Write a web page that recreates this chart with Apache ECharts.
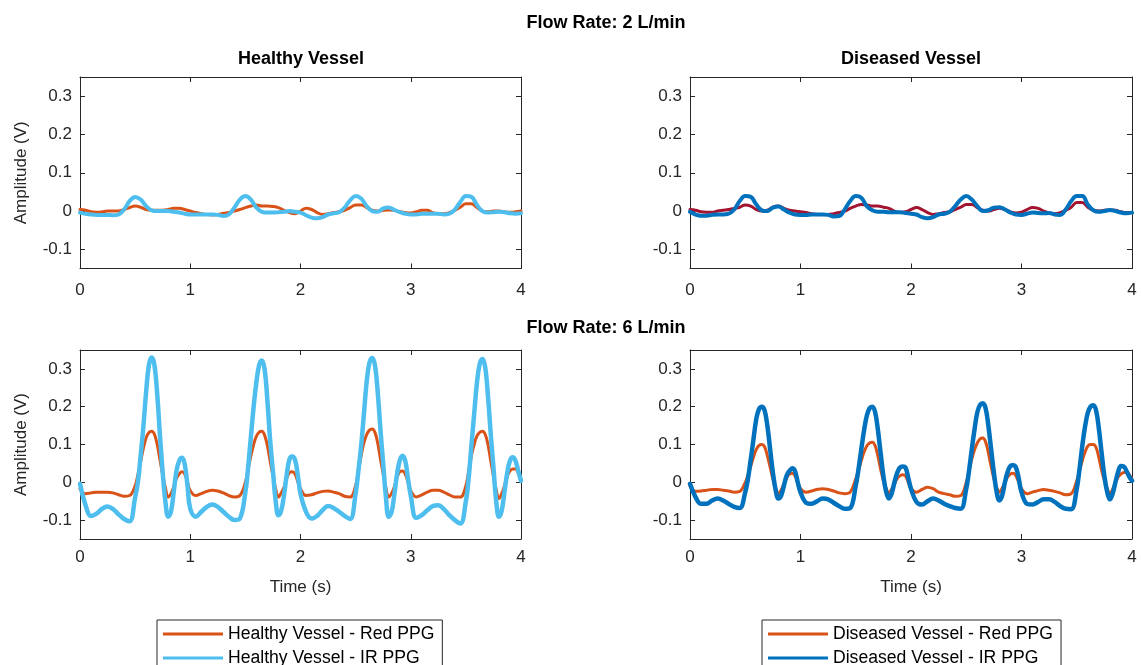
<!DOCTYPE html>
<html>
<head>
<meta charset="utf-8">
<title>PPG signals</title>
<script src="https://cdn.jsdelivr.net/npm/echarts@6/dist/echarts.min.js"></script>
<style>
  html, body { margin: 0; padding: 0; background: #fff; }
  #chart { width: 1141px; height: 665px; }
</style>
</head>
<body>
<div id="chart"></div>
<script>
// Sample times (s) for the 2 L/min traces, 0.05 s apart
const time2 = [
  0, 0.05, 0.1, 0.15, 0.2, 0.25, 0.3, 0.35, 0.4, 0.45, 0.5, 0.55, 0.6, 0.65, 0.7, 0.75, 0.8, 0.85, 0.9, 0.95,
  1, 1.05, 1.1, 1.15, 1.2, 1.25, 1.3, 1.35, 1.4, 1.45, 1.5, 1.55, 1.6, 1.65, 1.7, 1.75, 1.8, 1.85, 1.9, 1.95,
  2, 2.05, 2.1, 2.15, 2.2, 2.25, 2.3, 2.35, 2.4, 2.45, 2.5, 2.55, 2.6, 2.65, 2.7, 2.75, 2.8, 2.85, 2.9, 2.95,
  3, 3.05, 3.1, 3.15, 3.2, 3.25, 3.3, 3.35, 3.4, 3.45, 3.5, 3.55, 3.6, 3.65, 3.7, 3.75, 3.8, 3.85, 3.9, 3.95,
  4
];

// Sample times (s) for the 6 L/min traces: denser over each systolic pulse
const time6 = [
  0, 0.05, 0.1, 0.15, 0.2, 0.25, 0.3, 0.35, 0.4, 0.45,
  0.5, 0.525, 0.55, 0.575, 0.6, 0.625, 0.65, 0.675, 0.7, 0.725, 0.75, 0.775, 0.8, 0.825, 0.85, 0.875, 0.9, 0.925, 0.95, 0.975,
  1, 1.05, 1.1, 1.15, 1.2, 1.25, 1.3, 1.35, 1.4, 1.45,
  1.5, 1.525, 1.55, 1.575, 1.6, 1.625, 1.65, 1.675, 1.7, 1.725, 1.75, 1.775, 1.8, 1.825, 1.85, 1.875, 1.9, 1.925, 1.95, 1.975,
  2, 2.05, 2.1, 2.15, 2.2, 2.25, 2.3, 2.35, 2.4, 2.45,
  2.5, 2.525, 2.55, 2.575, 2.6, 2.625, 2.65, 2.675, 2.7, 2.725, 2.75, 2.775, 2.8, 2.825, 2.85, 2.875, 2.9, 2.925, 2.95, 2.975,
  3, 3.05, 3.1, 3.15, 3.2, 3.25, 3.3, 3.35, 3.4, 3.45,
  3.5, 3.525, 3.55, 3.575, 3.6, 3.625, 3.65, 3.675, 3.7, 3.725, 3.75, 3.775, 3.8, 3.825, 3.85, 3.875, 3.9, 3.925, 3.95, 3.975,
  4
];

// Flow rate 2 L/min — amplitudes (V)
const healthyRed2 = [
  0.004, 0.002, -0.002, -0.003, -0.002, 0, 0, 0, 0.004, 0.009, 0.013, 0.01, 0.004, 0.002, 0.002, 0.002, 0.004, 0.007, 0.007, 0.004,
  0, -0.004, -0.007, -0.009, -0.01, -0.009, -0.006, -0.004, 0, 0.004, 0.009, 0.013, 0.016, 0.013, 0.013, 0.012, 0.009, 0.002, -0.004, -0.007,
  0, 0.007, 0.004, -0.004, -0.009, -0.007, -0.004, -0.002, 0.002, 0.009, 0.016, 0.016, 0.009, 0.002, 0, 0.002, 0.003, 0.002, -0.002, -0.004,
  -0.005, -0.002, 0.002, 0.002, -0.004, -0.007, -0.007, -0.004, 0.002, 0.01, 0.019, 0.019, 0.009, 0, -0.002, 0, 0, -0.002, -0.003, -0.002,
  0
];
const healthyIR2 = [
  -0.004, -0.007, -0.009, -0.01, -0.01, -0.01, -0.011, -0.009, 0.004, 0.026, 0.037, 0.03, 0.013, 0.002, 0, 0, 0, -0.002, -0.004, -0.007,
  -0.009, -0.009, -0.009, -0.009, -0.009, -0.01, -0.013, -0.009, 0.009, 0.03, 0.039, 0.03, 0.009, -0.002, -0.004, -0.004, -0.003, -0.002, 0, -0.002,
  -0.004, -0.011, -0.017, -0.019, -0.016, -0.009, -0.006, -0.003, 0.009, 0.028, 0.039, 0.033, 0.013, 0, -0.002, 0.007, 0.009, 0.003, -0.003, -0.007,
  -0.009, -0.009, -0.007, -0.007, -0.007, -0.007, -0.009, -0.007, 0.004, 0.024, 0.039, 0.037, 0.016, 0, -0.004, -0.003, -0.002, -0.003, -0.006, -0.007,
  -0.006
];
const diseasedRed2 = [
  0.004, 0.002, -0.002, -0.003, -0.003, 0, 0.002, 0.004, 0.007, 0.01, 0.016, 0.013, 0.004, 0, 0.002, 0.01, 0.013, 0.007, 0.002, 0,
  -0.002, -0.004, -0.007, -0.009, -0.009, -0.009, -0.007, -0.004, 0, 0.007, 0.013, 0.017, 0.016, 0.013, 0.013, 0.01, 0.007, 0, -0.004, -0.002,
  0.004, 0.009, 0.004, -0.004, -0.009, -0.007, -0.004, -0.002, 0.004, 0.01, 0.017, 0.017, 0.009, 0.002, 0, 0.004, 0.007, 0.004, -0.002, -0.005,
  -0.003, 0.004, 0.009, 0.007, 0, -0.005, -0.007, -0.004, 0.002, 0.01, 0.022, 0.022, 0.01, 0.002, 0, 0.002, 0.003, 0.002, -0.002, -0.004,
  -0.004
];
const diseasedIR2 = [
  -0.002, -0.009, -0.012, -0.012, -0.01, -0.009, -0.009, -0.007, 0.004, 0.026, 0.039, 0.037, 0.017, 0.002, 0, 0.009, 0.012, 0.004, -0.004, -0.009,
  -0.01, -0.01, -0.009, -0.009, -0.009, -0.01, -0.014, -0.013, 0.004, 0.026, 0.039, 0.035, 0.013, 0.002, -0.002, -0.002, -0.003, -0.003, -0.003, -0.005,
  -0.007, -0.009, -0.016, -0.019, -0.016, -0.009, -0.007, -0.002, 0.013, 0.03, 0.039, 0.03, 0.013, 0, 0.002, 0.009, 0.01, 0.004, -0.004, -0.009,
  -0.01, -0.007, -0.004, -0.005, -0.006, -0.005, -0.009, -0.01, 0.004, 0.026, 0.039, 0.039, 0.017, 0.002, -0.002, 0, 0.003, 0, -0.004, -0.006,
  -0.004
];

// Flow rate 6 L/min — amplitudes (V), one row per beat (rest, then pulse)
const healthyRed6 = [
  -0.017, -0.03, -0.028, -0.026, -0.026, -0.026, -0.028, -0.033, -0.037, -0.035,
  -0.009, 0.02, 0.055, 0.09, 0.118, 0.132, 0.135, 0.127, 0.1, 0.06, 0.02, -0.015, -0.039, -0.03, -0.012, 0.01, 0.022, 0.028, 0.022, 0,
  -0.022, -0.035, -0.03, -0.024, -0.021, -0.023, -0.028, -0.035, -0.039, -0.035,
  0, 0.035, 0.07, 0.1, 0.122, 0.133, 0.135, 0.124, 0.096, 0.055, 0.017, -0.018, -0.039, -0.028, -0.013, 0.01, 0.026, 0.028, 0.022, 0.002,
  -0.017, -0.035, -0.033, -0.028, -0.024, -0.023, -0.026, -0.03, -0.037, -0.039,
  -0.009, 0.03, 0.07, 0.104, 0.126, 0.138, 0.141, 0.132, 0.104, 0.062, 0.022, -0.015, -0.039, -0.03, -0.013, 0.012, 0.028, 0.03, 0.022, 0,
  -0.022, -0.039, -0.033, -0.026, -0.021, -0.021, -0.026, -0.033, -0.039, -0.039,
  -0.009, 0.03, 0.07, 0.1, 0.122, 0.132, 0.135, 0.127, 0.1, 0.058, 0.017, -0.02, -0.043, -0.03, -0.009, 0.015, 0.03, 0.035, 0.035, 0.025,
  0.009
];
const healthyIR6 = [
  -0.004, -0.06, -0.089, -0.083, -0.07, -0.064, -0.071, -0.085, -0.097, -0.103,
  -0.04, 0, 0.07, 0.148, 0.24, 0.31, 0.33, 0.31, 0.235, 0.125, 0.026, -0.052, -0.091, -0.078, -0.026, 0.03, 0.057, 0.065, 0.048, -0.009,
  -0.07, -0.091, -0.078, -0.065, -0.059, -0.065, -0.078, -0.091, -0.1, -0.096,
  -0.026, 0.04, 0.12, 0.2, 0.265, 0.31, 0.322, 0.298, 0.215, 0.11, 0.03, -0.05, -0.087, -0.075, -0.035, 0.02, 0.061, 0.068, 0.06, 0.02,
  -0.03, -0.078, -0.096, -0.089, -0.074, -0.063, -0.068, -0.078, -0.089, -0.097,
  -0.03, 0.03, 0.096, 0.18, 0.265, 0.316, 0.329, 0.31, 0.24, 0.14, 0.05, -0.04, -0.091, -0.08, -0.035, 0.02, 0.057, 0.07, 0.057, 0.01,
  -0.035, -0.094, -0.087, -0.074, -0.063, -0.061, -0.071, -0.087, -0.1, -0.109,
  -0.05, 0.01, 0.096, 0.18, 0.262, 0.312, 0.326, 0.305, 0.23, 0.13, 0.04, -0.05, -0.091, -0.075, -0.026, 0.025, 0.057, 0.066, 0.057, 0.03,
  0.004
];
const diseasedRed6 = [
  -0.009, -0.024, -0.023, -0.021, -0.019, -0.019, -0.021, -0.023, -0.026, -0.024,
  0, 0.02, 0.043, 0.067, 0.087, 0.098, 0.1, 0.094, 0.07, 0.04, 0.009, -0.015, -0.03, -0.02, -0.004, 0.012, 0.022, 0.024, 0.017, 0,
  -0.017, -0.026, -0.023, -0.019, -0.017, -0.019, -0.023, -0.028, -0.03, -0.026,
  0.009, 0.032, 0.057, 0.08, 0.096, 0.104, 0.106, 0.097, 0.07, 0.035, 0.004, -0.016, -0.028, -0.018, -0.004, 0.01, 0.017, 0.02, 0.017, 0,
  -0.017, -0.026, -0.019, -0.013, -0.017, -0.026, -0.03, -0.033, -0.037, -0.035,
  0, 0.03, 0.061, 0.086, 0.104, 0.115, 0.117, 0.107, 0.078, 0.042, 0.009, -0.014, -0.026, -0.016, 0, 0.014, 0.022, 0.024, 0.017, 0,
  -0.017, -0.03, -0.026, -0.022, -0.019, -0.021, -0.024, -0.028, -0.033, -0.03,
  0.004, 0.03, 0.057, 0.08, 0.096, 0.1, 0.1, 0.092, 0.065, 0.032, 0.004, -0.016, -0.03, -0.018, 0, 0.014, 0.022, 0.026, 0.026, 0.02,
  0.009
];
const diseasedIR6 = [
  -0.004, -0.039, -0.057, -0.057, -0.048, -0.043, -0.048, -0.057, -0.065, -0.068,
  -0.026, 0.01, 0.061, 0.115, 0.168, 0.194, 0.2, 0.19, 0.15, 0.088, 0.026, -0.02, -0.043, -0.035, -0.009, 0.018, 0.03, 0.037, 0.03, 0,
  -0.026, -0.054, -0.057, -0.05, -0.043, -0.045, -0.054, -0.063, -0.07, -0.068,
  -0.009, 0.035, 0.087, 0.137, 0.176, 0.196, 0.2, 0.186, 0.14, 0.078, 0.017, -0.025, -0.043, -0.03, 0, 0.025, 0.039, 0.042, 0.039, 0.012,
  -0.017, -0.052, -0.059, -0.05, -0.043, -0.048, -0.057, -0.063, -0.068, -0.07,
  -0.017, 0.03, 0.087, 0.14, 0.185, 0.205, 0.209, 0.196, 0.15, 0.088, 0.026, -0.025, -0.048, -0.035, 0, 0.028, 0.043, 0.045, 0.039, 0.01,
  -0.026, -0.057, -0.059, -0.052, -0.045, -0.045, -0.052, -0.063, -0.07, -0.071,
  -0.017, 0.035, 0.096, 0.147, 0.184, 0.2, 0.204, 0.19, 0.142, 0.078, 0.017, -0.025, -0.045, -0.03, 0, 0.028, 0.043, 0.042, 0.03, 0.015,
  0.004
];

const timeTicks = [0, 1, 2, 3, 4];
const ampTicks = [-0.1, 0, 0.1, 0.2, 0.3];

const NAME_H_RED = 'Healthy Vessel - Red PPG';
const NAME_H_IR = 'Healthy Vessel - IR PPG';
const NAME_D_RED = 'Diseased Vessel - Red PPG';
const NAME_D_IR = 'Diseased Vessel - IR PPG';

const FONT = '"Liberation Sans", Arial, Helvetica, sans-serif';
const AXIS_COLOR = '#262626';
const ORANGE = '#D95319';
const SKY = '#4DBEEE';
const BLUE = '#0072BD';
const CRIMSON = '#A2142F';

// Panel rectangles: [left, top, width, height]
const panels = [
  [80, 77, 441, 191.5],   // top-left
  [690, 77, 442, 191.5],  // top-right
  [80, 350, 441, 189],    // bottom-left
  [690, 350, 442, 189]    // bottom-right
];

const grid = panels.map(p => ({ left: p[0], top: p[1], width: p[2], height: p[3], containLabel: false }));

const lineStyle = { color: AXIS_COLOR, width: 1 };
const tickStyle = { inside: true, length: 5, lineStyle: { color: AXIS_COLOR, width: 1 } };
const labelStyle = { color: AXIS_COLOR, fontSize: 17, fontFamily: FONT };

const xAxis = [];
const yAxis = [];
panels.forEach((p, i) => {
  const bottomRow = i >= 2;
  const leftCol = i % 2 === 0;
  xAxis.push({
    type: 'value', gridIndex: i, position: 'bottom', min: 0, max: 4, interval: 1,
    axisLine: { show: true, onZero: false, lineStyle },
    axisTick: Object.assign({ customValues: timeTicks }, tickStyle),
    axisLabel: Object.assign({ margin: bottomRow ? 10 : 13, customValues: timeTicks }, labelStyle),
    splitLine: { show: false },
    name: bottomRow ? 'Time (s)' : '',
    nameLocation: 'middle', nameGap: 40,
    nameTextStyle: { color: AXIS_COLOR, fontSize: 17, fontFamily: FONT }
  });
  xAxis.push({
    type: 'value', gridIndex: i, position: 'top', min: 0, max: 4, interval: 1,
    axisLine: { show: true, onZero: false, lineStyle },
    axisTick: Object.assign({ customValues: timeTicks }, tickStyle),
    axisLabel: { show: false },
    splitLine: { show: false }
  });
  yAxis.push({
    type: 'value', gridIndex: i, position: 'left', min: -0.15, max: 0.35,
    axisLine: { show: true, onZero: false, lineStyle },
    axisTick: Object.assign({ customValues: ampTicks }, tickStyle),
    axisLabel: Object.assign({ margin: 8, customValues: ampTicks }, labelStyle),
    splitLine: { show: false },
    name: leftCol ? 'Amplitude (V)' : '',
    nameLocation: 'middle', nameGap: 50,
    nameTextStyle: { color: AXIS_COLOR, fontSize: 17, fontFamily: FONT }
  });
  yAxis.push({
    type: 'value', gridIndex: i, position: 'right', min: -0.15, max: 0.35,
    axisLine: { show: true, onZero: false, lineStyle },
    axisTick: Object.assign({ customValues: ampTicks }, tickStyle),
    axisLabel: { show: false },
    splitLine: { show: false }
  });
});

function trace(name, times, values, panel, color, width) {
  return {
    type: 'line', name,
    data: times.map((t, k) => [t, values[k]]),
    xAxisIndex: panel * 2, yAxisIndex: panel * 2,
    symbol: 'none', smooth: 0.4,
    lineStyle: { color, width, cap: 'round', join: 'round' },
    itemStyle: { color },
    emphasis: { disabled: true },
    animation: false
  };
}

// Bottom-row traces come first so the legends take their colours
const series = [
  trace(NAME_H_RED, time6, healthyRed6, 2, ORANGE, 3),
  trace(NAME_H_IR, time6, healthyIR6, 2, SKY, 4.5),
  trace(NAME_D_RED, time6, diseasedRed6, 3, ORANGE, 3),
  trace(NAME_D_IR, time6, diseasedIR6, 3, BLUE, 4.5),
  trace(NAME_H_RED, time2, healthyRed2, 0, ORANGE, 3),
  trace(NAME_H_IR, time2, healthyIR2, 0, SKY, 4),
  trace(NAME_D_RED, time2, diseasedRed2, 1, CRIMSON, 3),
  trace(NAME_D_IR, time2, diseasedIR2, 1, BLUE, 4)
];

const legendCommon = {
  orient: 'vertical', top: 620, height: 120,
  icon: 'rect', itemWidth: 60, itemHeight: 3, itemGap: 6,
  padding: [5, 8, 5, 6],
  borderColor: AXIS_COLOR, borderWidth: 1,
  backgroundColor: '#fff',
  selectedMode: false,
  textStyle: { color: '#000', fontSize: 17.6, fontFamily: FONT }
};

const titleStyle = { fontWeight: 'bold', fontSize: 18, color: '#000', fontFamily: FONT };
const title = [
  { text: 'Flow Rate: 2 L/min', left: 606, top: 14 },
  { text: 'Healthy Vessel', left: 301, top: 50 },
  { text: 'Diseased Vessel', left: 911, top: 50 },
  { text: 'Flow Rate: 6 L/min', left: 606, top: 319 }
].map(t => Object.assign({ textAlign: 'center', padding: 0, textStyle: titleStyle }, t));

const chart = echarts.init(document.getElementById('chart'), null, { renderer: 'canvas' });
chart.setOption({
  backgroundColor: '#fff',
  animation: false,
  title,
  grid,
  xAxis,
  yAxis,
  legend: [
    Object.assign({ left: 157, data: [NAME_H_RED, NAME_H_IR] }, legendCommon),
    Object.assign({ left: 762, data: [NAME_D_RED, NAME_D_IR] }, legendCommon)
  ],
  series
});
</script>
</body>
</html>
